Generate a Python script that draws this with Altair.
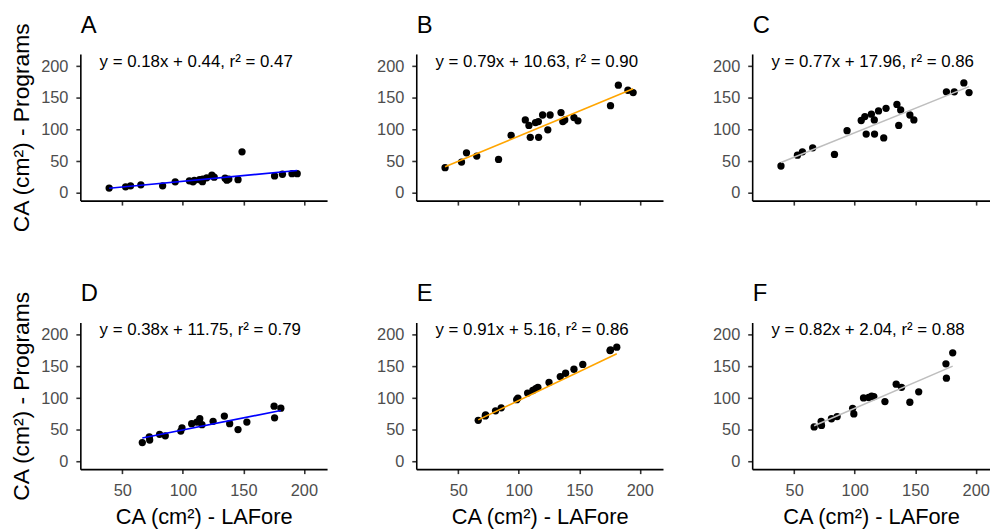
import altair as alt
import pandas as pd

# shared x values (LAFore) for top row and bottom row
x_top = [39.1, 52.7, 56.8, 65.3, 83.3, 93.7, 105.4, 108.4, 109.5, 113.8, 116.2, 116.4,
         119.7, 124.0, 125.9, 134.9, 136.4, 138.0, 145.6, 148.9, 175.8, 182.3, 190.2, 194.5]
y_A = [7.8, 9.8, 11.4, 12.9, 11.4, 17.6, 19.2, 17.6, 20.0, 21.0, 17.9, 22.0,
       24.0, 28.0, 25.0, 23.4, 20.2, 22.0, 21.0, 64.9, 27.0, 29.6, 30.4, 30.4]
y_B = [40.0, 48.8, 63.4, 58.2, 53.0, 91.0, 115.3, 106.5, 87.8, 111.0, 112.7, 87.8,
       123.0, 99.7, 123.0, 126.8, 112.7, 115.3, 119.0, 113.8, 137.7, 170.0, 162.0, 158.4]
y_C = [42.6, 59.7, 65.0, 71.2, 60.8, 98.2, 114.3, 120.5, 93.0, 124.2, 115.3, 93.0,
       129.4, 86.8, 133.5, 139.7, 106.5, 131.0, 123.0, 115.3, 159.5, 159.5, 173.5, 158.4]

x_bot = [66.5, 72.3, 72.6, 80.8, 85.5, 98.3, 99.3, 107.3, 111.6, 114.0, 115.8, 125.0,
         134.3, 138.7, 145.6, 152.9, 175.4, 175.8, 181.0]
y_D = [30.0, 39.0, 34.0, 43.0, 40.5, 48.0, 53.0, 59.7, 62.3, 67.5, 58.2, 63.4,
       71.7, 59.7, 50.4, 62.3, 87.3, 69.0, 84.2]
y_E = [65.0, 72.0, 73.5, 80.0, 84.7, 97.5, 100.0, 108.0, 112.0, 115.0, 117.0, 124.7,
       134.0, 139.2, 145.5, 153.2, 175.0, 176.0, 180.3]
y_F = [54.5, 63.4, 57.0, 67.5, 71.0, 84.0, 75.0, 100.3, 101.0, 103.0, 102.5, 94.5,
       122.0, 117.0, 93.5, 110.0, 154.0, 131.5, 171.5]

panel_labels = ["A", "B", "C", "D", "E", "F"]
slopes = [0.18, 0.79, 0.77, 0.38, 0.91, 0.82]
intercepts = [0.44, 10.63, 17.96, 11.75, 5.16, 2.04]
r2_values = [0.47, 0.90, 0.86, 0.79, 0.86, 0.88]
line_colors = ["#0000FF", "#FFA500", "#BEBEBE", "#0000FF", "#FFA500", "#BEBEBE"]
y_ticks = [0, 50, 100, 150, 200]
x_ticks = [50, 100, 150, 200]

FONT = "Liberation Sans"
PX_PER_X = 1.2213
X0 = 15.3
Y_DOMAIN = [-12, 219.2]

ys_all = [y_A, y_B, y_C, y_D, y_E, y_F]

panels = []
for idx in range(6):
    row, col = divmod(idx, 3)
    xs = x_top if row == 0 else x_bot
    ys = ys_all[idx]
    w = 249 if col < 2 else 240
    xdom = [X0, X0 + w / PX_PER_X]
    s, b = slopes[idx], intercepts[idx]
    pts = pd.DataFrame({"x": xs, "y": ys})
    xmin, xmax = min(xs), max(xs)
    ln = pd.DataFrame({"x": [xmin, xmax], "y": [s * xmin + b, s * xmax + b]})
    ann = pd.DataFrame({"x": [31.2], "y": [199.0],
                        "t": [f"y = {s:.2f}x + {b:.2f}, r\u00b2 = {r2_values[idx]:.2f}"]})
    lab = pd.DataFrame({"t": [panel_labels[idx]]})

    if row == 1:
        xaxis = alt.Axis(values=x_ticks, title="CA (cm\u00b2) - LAFore", labels=True,
                         labelOverlap=False)
    else:
        xaxis = alt.Axis(values=x_ticks, title=None, labels=False)
    if col == 0:
        yaxis = alt.Axis(values=y_ticks, title="CA (cm\u00b2) - Programs", labelOverlap=False,
                         titleFontSize=23)
    else:
        yaxis = alt.Axis(values=y_ticks, title=None, labelOverlap=False)

    xenc = alt.X("x:Q", scale=alt.Scale(domain=xdom, nice=False, zero=False), axis=xaxis)
    yenc = alt.Y("y:Q", scale=alt.Scale(domain=Y_DOMAIN, nice=False, zero=False), axis=yaxis)

    p = alt.Chart(pts).mark_circle(size=54, color="black", opacity=1).encode(x=xenc, y=yenc)
    l = alt.Chart(ln).mark_line(color=line_colors[idx], strokeWidth=1.6).encode(x=xenc, y=yenc)
    t = alt.Chart(ann).mark_text(align="left", baseline="alphabetic", fontSize=17,
                                 font=FONT, color="black").encode(x=xenc, y=yenc, text="t:N")
    letter = alt.Chart(lab).mark_text(align="left", baseline="alphabetic", fontSize=24,
                                      font=FONT, color="black").encode(
        x=alt.value(0.5), y=alt.value(-21.4), text="t:N")
    layer = alt.layer(p, l, t, letter).properties(width=w, height=148)
    panels.append(layer)

chart = alt.concat(*panels, columns=3, spacing={"row": 123, "column": 90},
                   bounds="flush", align="each").properties(
    padding={"left": 2, "top": 3, "right": 0, "bottom": 0}
).configure_view(stroke=None).configure_axis(
    grid=False, domainColor="black", domainWidth=1.6, tickColor="#333333", tickWidth=1.6,
    tickSize=4.5, labelColor="#4D4D4D", labelFontSize=16.5, labelFont=FONT,
    titleFont=FONT, titleFontSize=22, titleFontWeight="normal", titleColor="black",
).configure_axisX(labelPadding=9, titlePadding=8).configure_axisY(labelPadding=8, titlePadding=7)

chart.save("out.html", embed_options={"renderer": "svg", "actions": False})
